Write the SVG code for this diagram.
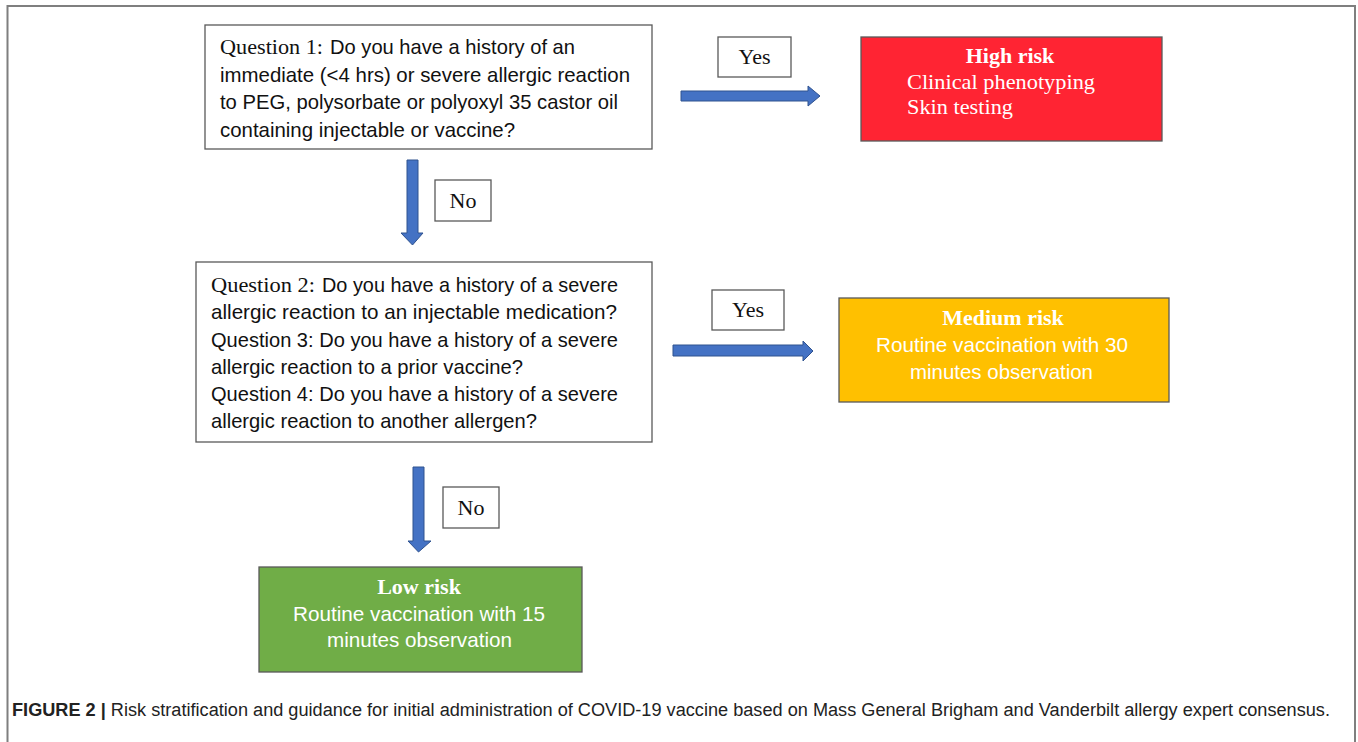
<svg xmlns="http://www.w3.org/2000/svg" width="1358" height="742" viewBox="0 0 1358 742">
<style>
.frame{fill:none;stroke:#7f7f7f;stroke-width:2}
.box{fill:#fff;stroke:#595959;stroke-width:1.3}
.serif{font-family:"Liberation Serif","Times New Roman",serif;font-size:21px;fill:#111}
.lbl{font-family:"Liberation Serif","Times New Roman",serif;font-size:22px;fill:#111}
.sans{font-family:"Liberation Sans",Arial,sans-serif;font-size:21px;fill:#111}
.wserif{font-family:"Liberation Serif","Times New Roman",serif;font-size:22px;fill:#fff}
.wbold{font-family:"Liberation Serif","Times New Roman",serif;font-size:22px;font-weight:bold;fill:#fff}
.wsans{font-family:"Liberation Sans",Arial,sans-serif;font-size:21px;fill:#fff}
.arrow{fill:#4472C4;stroke:#2F528F;stroke-width:1}
.cap{font-family:"Liberation Sans",Arial,sans-serif;font-size:18px;fill:#222}
</style>
<rect width="1358" height="742" fill="#fff"/>
<path class="frame" d="M7.5 742 V6 H1355 V742"/>

<g id="connectors">
  <path class="arrow" d="M681 91 H808 V86 L820 96 L808 106 V101 H681 Z"/>
  <path class="arrow" d="M407 160 H418 V233 H423 L412.5 245 L401 233 H407 Z"/>
  <path class="arrow" d="M673 345 H803 V341 L813 351 L803 361 V356 H673 Z"/>
  <path class="arrow" d="M413 467 H424 V541 H431 L418.5 552 L408 541 H413 Z"/>
  <g id="label-yes1"><rect class="box" x="718" y="37" width="73" height="40"/><text class="lbl" x="754.5" y="64" text-anchor="middle">Yes</text></g>
  <g id="label-no1"><rect class="box" x="435" y="180" width="56" height="41"/><text class="lbl" x="463" y="208" text-anchor="middle">No</text></g>
  <g id="label-yes2"><rect class="box" x="712" y="290" width="72" height="40"/><text class="lbl" x="748" y="317" text-anchor="middle">Yes</text></g>
  <g id="label-no2"><rect class="box" x="443" y="487" width="56" height="41"/><text class="lbl" x="471" y="515" text-anchor="middle">No</text></g>
</g>

<g id="q1">
  <rect class="box" x="205" y="25" width="447" height="124"/>
  <text class="serif" x="220" y="54" textLength="103" lengthAdjust="spacingAndGlyphs">Question 1:</text>
  <text class="sans" x="330" y="54" textLength="245" lengthAdjust="spacingAndGlyphs">Do you have a history of an</text>
  <text class="sans" x="220" y="82" textLength="410" lengthAdjust="spacingAndGlyphs">immediate (&lt;4 hrs) or severe allergic reaction</text>
  <text class="sans" x="220" y="109" textLength="398" lengthAdjust="spacingAndGlyphs">to PEG, polysorbate or polyoxyl 35 castor oil</text>
  <text class="sans" x="220" y="137" textLength="295" lengthAdjust="spacingAndGlyphs">containing injectable or vaccine?</text>
</g>

<g id="high">
  <rect x="861" y="37" width="301" height="104" fill="#FF2433" stroke="#595959" stroke-width="1.3"/>
  <text class="wbold" x="1010" y="63" text-anchor="middle">High risk</text>
  <text class="wserif" x="907" y="89" textLength="188" lengthAdjust="spacingAndGlyphs">Clinical phenotyping</text>
  <text class="wserif" x="907" y="114" textLength="106" lengthAdjust="spacingAndGlyphs">Skin testing</text>
</g>

<g id="q2">
  <rect class="box" x="196" y="262" width="456" height="180"/>
  <text class="serif" x="211" y="292" textLength="104" lengthAdjust="spacingAndGlyphs">Question 2:</text>
  <text class="sans" x="322" y="292" textLength="296" lengthAdjust="spacingAndGlyphs">Do you have a history of a severe</text>
  <text class="sans" x="211" y="319" textLength="406" lengthAdjust="spacingAndGlyphs">allergic reaction to an injectable medication?</text>
  <text class="sans" x="211" y="347" textLength="407" lengthAdjust="spacingAndGlyphs">Question 3: Do you have a history of a severe</text>
  <text class="sans" x="211" y="374" textLength="312" lengthAdjust="spacingAndGlyphs">allergic reaction to a prior vaccine?</text>
  <text class="sans" x="211" y="401" textLength="407" lengthAdjust="spacingAndGlyphs">Question 4: Do you have a history of a severe</text>
  <text class="sans" x="211" y="428" textLength="326" lengthAdjust="spacingAndGlyphs">allergic reaction to another allergen?</text>
</g>

<g id="medium">
  <rect x="839" y="298" width="330" height="104" fill="#FFC000" stroke="#595959" stroke-width="1.3"/>
  <text class="wbold" x="1003" y="325" text-anchor="middle">Medium risk</text>
  <text class="wsans" x="876" y="352" textLength="252" lengthAdjust="spacingAndGlyphs">Routine vaccination with 30</text>
  <text class="wsans" x="910" y="379" textLength="183" lengthAdjust="spacingAndGlyphs">minutes observation</text>
</g>

<g id="low">
  <rect x="259" y="567" width="323" height="105" fill="#70AD47" stroke="#595959" stroke-width="1.3"/>
  <text class="wbold" x="419" y="594" text-anchor="middle">Low risk</text>
  <text class="wsans" x="293" y="621" textLength="252" lengthAdjust="spacingAndGlyphs">Routine vaccination with 15</text>
  <text class="wsans" x="327" y="647" textLength="185" lengthAdjust="spacingAndGlyphs">minutes observation</text>
</g>

<g id="caption">
  <text class="cap" x="12" y="716" textLength="1318" lengthAdjust="spacingAndGlyphs"><tspan font-weight="bold">FIGURE 2 |</tspan> Risk stratification and guidance for initial administration of COVID-19 vaccine based on Mass General Brigham and Vanderbilt allergy expert consensus.</text>
</g>
</svg>
